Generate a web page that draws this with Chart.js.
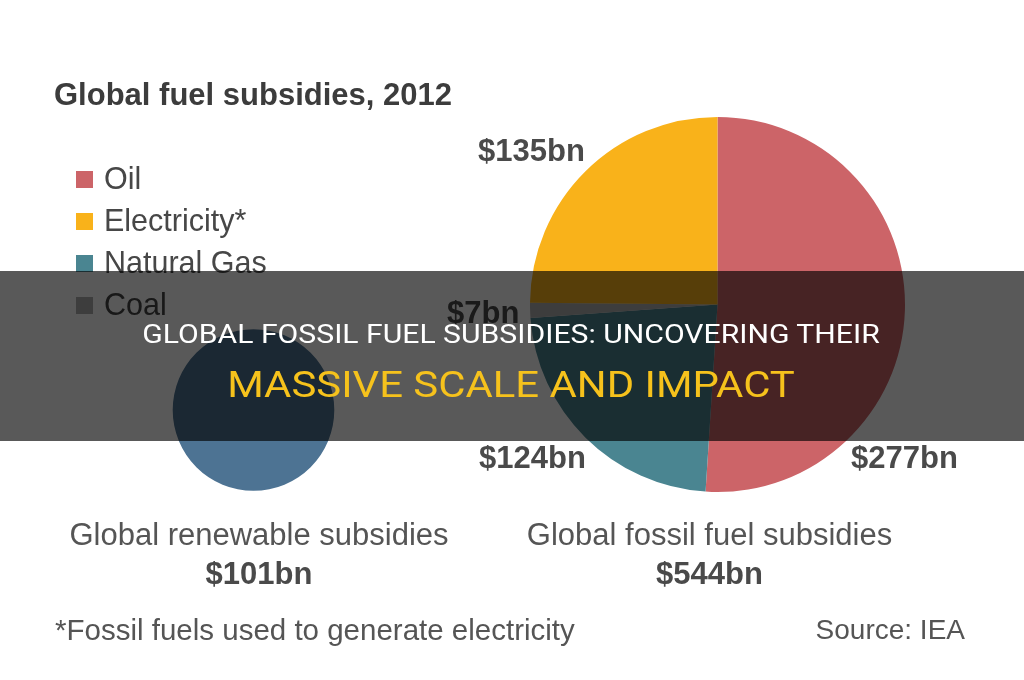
<!DOCTYPE html>
<html>
<head>
<meta charset="utf-8">
<title>Global fuel subsidies, 2012</title>
<script src="https://cdn.jsdelivr.net/npm/chart.js"></script>
<style>
    body { margin: 0; background: #fff; }
    #board { position: relative; width: 1024px; height: 680px; overflow: hidden; font-family: "Liberation Sans", Arial, sans-serif; color: #464646; }
    #board canvas { position: absolute; left: 0; top: 0; }
    .txt { position: absolute; white-space: nowrap; line-height: 1; }
    .box { position: absolute; width: 17px; height: 17px; }
    #band { position: absolute; left: 0; top: 271px; width: 1024px; height: 170px; background: rgba(0, 0, 0, 0.65); z-index: 5; }
</style>
</head>
<body>
<div id="board">
    <canvas id="renewables" width="1024" height="680"></canvas>
    <canvas id="fossil" width="1024" height="680"></canvas>
    <div id="band"></div>
</div>
<script>
// data, in legend order
const categories = ['Oil', 'Electricity*', 'Natural Gas', 'Coal'];
const fossilValues = [277, 135, 124, 7];
const fossilTotal = 544;
const renewableTotal = 101;
const captions = ['Global renewable subsidies', 'Global fossil fuel subsidies'];
const totals = [renewableTotal, fossilTotal];

// clockwise from 12 o'clock
const sliceOrder = [0, 2, 3, 1];
const colours = ['#cc6468', '#f9b21a', '#4a8591', '#b0b0b0'];
const renewableColour = '#4d7393';

// layout
const fossilRadius = 187.5;
const labelSpots = {
    'Oil': [851, 457],
    'Electricity*': [478, 150],
    'Natural Gas': [479, 457],
    'Coal': [447, 312]
};
const captionCentres = [259, 709.5];

function money(v) {
    return '$' + v + 'bn';
}

function addText(content, x, y, style, anchor, width) {
    let el = document.createElement('div');
    el.className = 'txt';
    el.textContent = content;
    el.style.cssText += style;
    el.style.left = x + 'px';
    el.style.top = y + 'px';
    document.getElementById('board').appendChild(el);
    let pct = anchor == 'center' ? 50 : (anchor == 'right' ? 100 : 0);
    let scale = width ? width / el.offsetWidth : 1;
    el.style.transformOrigin = pct + '% 50%';
    el.style.transform = `translate(-${pct}%, -50%) scaleX(${scale})`;
    return el;
}

new Chart('fossil', {
    type: 'pie',
    data: {
        labels: sliceOrder.map(i => categories[i]),
        datasets: [{
            data: sliceOrder.map(i => fossilValues[i]),
            backgroundColor: sliceOrder.map(i => colours[i]),
            borderWidth: 0,
            hoverOffset: 0
        }]
    },
    options: {
        responsive: false,
        animation: false,
        layout: { padding: { left: 530, right: 119, top: 117, bottom: 188 } },
        plugins: { legend: { display: false }, tooltip: { enabled: false } }
    }
});

// circle area scaled to the fossil pie
new Chart('renewables', {
    type: 'pie',
    data: {
        labels: ['Renewables'],
        datasets: [{
            data: [renewableTotal],
            backgroundColor: renewableColour,
            borderWidth: 0,
            hoverOffset: 0
        }]
    },
    options: {
        responsive: false,
        animation: false,
        radius: fossilRadius * Math.sqrt(renewableTotal / fossilTotal),
        layout: { padding: { left: 153, right: 670, top: 310, bottom: 170 } },
        plugins: { legend: { display: false }, tooltip: { enabled: false } }
    }
});

addText('Global fuel subsidies, 2012', 54, 94, 'font-weight:bold;font-size:31px;color:#3c3c3c;', 'left');

for (let i = 0; i < categories.length; i++) {
    let sq = document.createElement('div');
    sq.className = 'box';
    sq.style.left = '76px';
    sq.style.top = (171 + 42 * i) + 'px';
    sq.style.background = colours[i];
    document.getElementById('board').appendChild(sq);
    addText(categories[i], 104, 178 + 42 * i, 'font-size:30.5px;color:#474747;', 'left');

    let spot = labelSpots[categories[i]];
    addText(money(fossilValues[i]), spot[0], spot[1], 'font-weight:bold;font-size:31px;color:#4a4a4a;', 'left');
}

for (let i = 0; i < captions.length; i++) {
    addText(captions[i], captionCentres[i], 534, 'font-size:31px;color:#555;', 'center');
    addText(money(totals[i]), captionCentres[i], 573, 'font-weight:bold;font-size:31px;color:#4a4a4a;', 'center');
}

addText('*Fossil fuels used to generate electricity', 55, 630, 'font-size:29.5px;color:#555;', 'left');
addText('Source: IEA', 965, 630, 'font-size:28px;color:#555;', 'right');

// headline band on top
addText('GLOBAL FOSSIL FUEL SUBSIDIES: UNCOVERING THEIR', 511, 334,
    'font-family:Roboto,sans-serif;font-size:25px;color:#fff;z-index:6;', 'center', 738);
addText('MASSIVE SCALE AND IMPACT', 511, 383.5,
    'font-family:Roboto,sans-serif;font-size:37px;color:#f6c21c;z-index:6;', 'center', 568);
</script>
</body>
</html>
